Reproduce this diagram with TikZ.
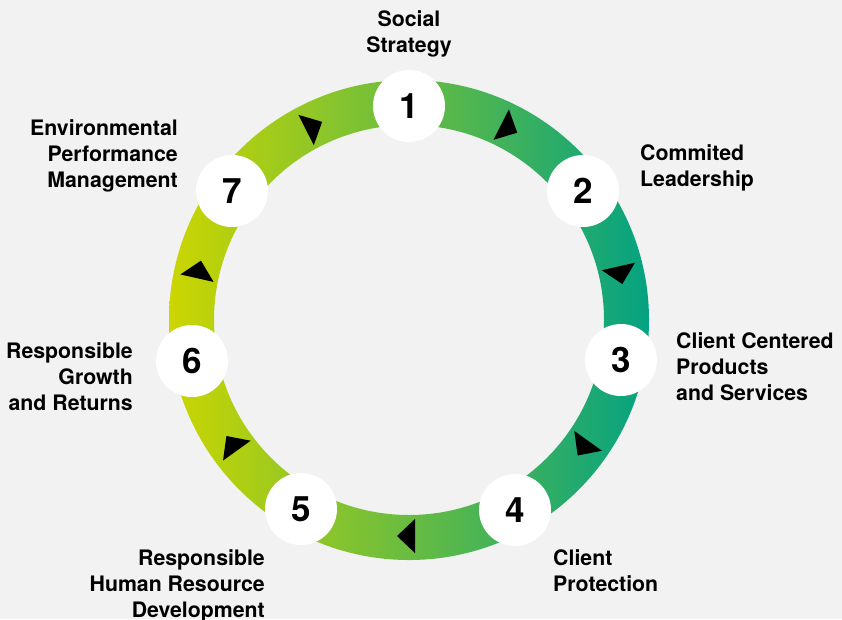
\documentclass[tikz,border=0pt]{standalone}
\usepackage{fontspec}
\setmainfont{TeX Gyre Heros}
\begin{document}
\begin{tikzpicture}[x=1pt,y=-1pt,
  caption/.style={font=\bfseries\fontsize{21.3}{26}\selectfont, inner sep=0pt, text=black},
  stage/.style={circle, fill=white, minimum size=72pt, inner sep=0pt,
    font=\bfseries\fontsize{35}{35}\selectfont},
  flowtip/.style={fill=black},
]
\definecolor{bg}{HTML}{F2F2F2}
\definecolor{ringL}{RGB}{204,214,0}
\definecolor{ringR}{RGB}{4,162,130}
% canvas
\fill[bg] (0,0) rectangle (842,619);
\useasboundingbox (0,0) rectangle (842,619);
% shaded ring
\coordinate (c) at (409,320);
\path[even odd rule, left color=ringL, right color=ringR]
  (c) circle[radius=240] (c) circle[radius=195];
% direction marks, pointing clockwise
\foreach \a in {63.15,12.75,-35.6,-90,-144.4,167.25,116.85} {
  \fill[flowtip]
    ({409+216*cos(\a)+12*sin(\a)},{320-216*sin(\a)+12*cos(\a)})
    -- ({409+216*cos(\a)-6*sin(\a)+17*cos(\a)},{320-216*sin(\a)-6*cos(\a)-17*sin(\a)})
    -- ({409+216*cos(\a)-6*sin(\a)-17*cos(\a)},{320-216*sin(\a)-6*cos(\a)+17*sin(\a)})
    -- cycle;
}
% numbered stages
\node[stage] (s1) at (409,106) {1};
\node[stage] (s2) at (583,191) {2};
\node[stage] (s3) at (621,360) {3};
\node[stage] (s4) at (515,510) {4};
\node[stage] (s5) at (301,509) {5};
\node[stage] (s6) at (192,361) {6};
\node[stage] (s7) at (232,191) {7};
% captions
\node[caption, anchor=north, align=center] (t1) at (409,10) {Social\\Strategy};
\node[caption, anchor=north west, align=left] (t2) at (640,144) {Commited\\Leadership};
\node[caption, anchor=north west, align=left] (t3) at (676,332) {Client Centered\\Products\\and Services};
\node[caption, anchor=north west, align=left] (t4) at (553,549) {Client\\Protection};
\node[caption, anchor=north east, align=right] (t5) at (265,549) {Responsible\\Human Resource\\Development};
\node[caption, anchor=north east, align=right] (t6) at (133,342) {Responsible\\Growth\\and Returns};
\node[caption, anchor=north east, align=right] (t7) at (178,119) {Environmental\\Performance\\Management};
\end{tikzpicture}
\end{document}
